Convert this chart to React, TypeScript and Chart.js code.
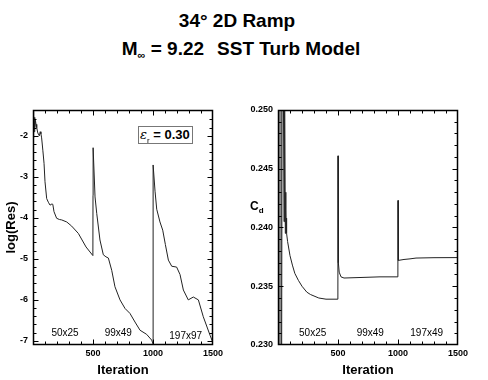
import React, { useEffect, useRef } from "react";
import { Chart, registerables } from "chart.js";

Chart.register(...registerables);

const FONT = "'Liberation Sans', Arial, Helvetica, sans-serif";

// ---- Left panel: log(Res) vs iteration ----
const resIter = [
  0, 2, 4, 6, 8, 10, 13, 16, 20, 25, 31, 40, 53, 60, 66, 72, 82, 92, 100, 114,
  128, 142, 158, 165, 175, 197, 220, 239, 281, 322, 378, 442, 499, 500, 501, 517,
  531, 558, 586, 608, 628, 656, 683, 725, 767, 808, 850, 892, 947, 989, 999, 1000,
  1001, 1017, 1031, 1058, 1081, 1103, 1128, 1156, 1197, 1225, 1253, 1294, 1336, 1378,
  1419, 1475, 1500,
];
const resLog = [
  -1.4, -2.05, -1.45, -1.95, -1.5, -1.9, -1.55, -1.8, -1.62, -1.72, -1.8, -1.93, -2.0,
  -1.9, -1.95, -2.05, -2.35, -2.67, -3.12, -3.53, -3.62, -3.69, -3.66, -3.67, -3.85,
  -4.01, -4.04, -4.05, -4.1, -4.2, -4.38, -4.71, -4.92, -3.45, -2.29, -3.49, -3.89,
  -4.54, -4.9, -4.95, -4.98, -5.28, -5.68, -6.0, -6.21, -6.33, -6.54, -6.74, -6.84,
  -6.98, -7.06, -7.3, -2.71, -3.35, -3.79, -4.1, -4.3, -4.65, -5.03, -5.18, -5.2,
  -5.38, -5.76, -6.0, -5.93, -6.0, -6.41, -6.86, -7.05,
];

// ---- Right panel: Cd vs iteration ----
const cdIter = [
  0, 2, 4, 6, 8, 10, 12, 14, 16, 18, 20, 22, 24, 26, 28, 30, 34, 45, 50, 55, 61, 64,
  66, 68, 70, 73, 80, 100, 120, 140, 170, 200, 240, 270, 340, 400, 499, 500, 503, 510,
  525, 550, 700, 850, 999, 1000, 1003, 1050, 1100, 1150, 1300, 1500,
];
const cdValue = [
  0.26, 0.225, 0.26, 0.225, 0.26, 0.225, 0.26, 0.225, 0.26, 0.225, 0.26, 0.225, 0.26,
  0.225, 0.26, 0.225, 0.252, 0.252, 0.2405, 0.252, 0.2395, 0.243, 0.2415, 0.2398,
  0.2408, 0.2395, 0.2388, 0.2376, 0.2368, 0.2361, 0.2355, 0.235, 0.2345, 0.2343, 0.234,
  0.2339, 0.2339, 0.2461, 0.237, 0.2362, 0.2358, 0.2357, 0.23575, 0.2358, 0.2358,
  0.2423, 0.2372, 0.23728, 0.23733, 0.2374, 0.23743, 0.23744,
];

// ---- Tick labels ----
const iterTicks = [500, 1000, 1500];
const resTicks = [-7, -6, -5, -4, -3, -2];
const cdTicks = [0.23, 0.235, 0.24, 0.245, 0.25];

// ---- Grid annotations ----
const resGrids = ["50x25", "99x49", "197x97"];
const cdGrids = ["50x25", "99x49", "197x49"];

function framePlugin(xMajor: number[], xMinorStep: number, yMajor: number[], yMinorStep: number) {
  return {
    id: "frame",
    afterDraw(chart: any) {
      const { ctx, chartArea: a, scales } = chart;
      const xs = scales.x;
      const ys = scales.y;
      ctx.save();
      ctx.strokeStyle = "#000";
      ctx.lineWidth = 1;
      const seg = (x1: number, y1: number, x2: number, y2: number) => {
        ctx.beginPath();
        ctx.moveTo(x1, y1);
        ctx.lineTo(x2, y2);
        ctx.stroke();
      };
      const L = Math.round(a.left) + 0.5;
      const R = Math.round(a.right) - 0.5;
      const T = Math.round(a.top) + 0.5;
      const B = Math.round(a.bottom) - 0.5;
      for (let v = xs.min; v <= xs.max + 1e-9; v += xMinorStep) {
        const major = xMajor.some((m) => Math.abs(m - v) < 1e-6);
        const len = major ? 5 : 3;
        const px = Math.round(xs.getPixelForValue(v)) + 0.5;
        if (px <= L + 1 || px >= R - 1) continue;
        seg(px, B, px, B - len);
        seg(px, T, px, T + len);
      }
      const start = Math.ceil(ys.min / yMinorStep - 1e-6) * yMinorStep;
      for (let v = start; v <= ys.max + 1e-9; v += yMinorStep) {
        const major = yMajor.some((m) => Math.abs(m - v) < 1e-6);
        const len = major ? 5 : 3;
        const py = Math.round(ys.getPixelForValue(v)) + 0.5;
        if (py <= T + 1 || py >= B - 1) continue;
        seg(L, py, L + len, py);
        seg(R, py, R - len, py);
      }
      ctx.lineWidth = 1.5;
      ctx.strokeRect(L, T, R - L, B - T);
      ctx.restore();
    },
  };
}

function makeConfig(opts: {
  xs: number[];
  ys: number[];
  yMin: number;
  yMax: number;
  yTicks: number[];
  yMinorStep: number;
  yWidth: number;
  padRight: number;
  yTitle: string;
  yLabelPad: number;
  fmt: (v: number) => string;
  grayUntil: number;
}): any {
  const data = opts.xs.map((x, i) => ({ x, y: opts.ys[i] }));
  const tickFont = { family: FONT, size: 9, weight: "bold" as const };
  return {
    type: "line",
    data: {
      datasets: [
        {
          data,
          borderColor: "#222",
          borderWidth: 1,
          pointRadius: 0,
          tension: 0,
          fill: false,
          segment: {
            borderColor: (ctx: any) =>
              ctx.p1.parsed.x <= opts.grayUntil ? "#8a8a8a" : undefined,
          },
        },
      ],
    },
    options: {
      animation: false,
      responsive: false,
      events: [],
      layout: { padding: { top: 110, right: opts.padRight, left: 0, bottom: 0 } },
      plugins: { legend: { display: false }, tooltip: { enabled: false } },
      scales: {
        x: {
          type: "linear",
          min: 0,
          max: 1500,
          afterBuildTicks: (s: any) => {
            s.ticks = iterTicks.map((v) => ({ value: v }));
          },
          afterFit: (s: any) => {
            s.height = 35;
          },
          grid: { display: false, drawTicks: false },
          border: { display: false },
          ticks: {
            padding: 3,
            autoSkip: false,
            maxRotation: 0,
            color: "#000",
            font: tickFont,
            callback: (v: any) => String(v),
          },
          title: {
            display: true,
            text: "Iteration",
            color: "#000",
            font: { family: FONT, size: 13, weight: "bold" },
            padding: { top: 0, bottom: 1.5 },
          },
        },
        y: {
          type: "linear",
          min: opts.yMin,
          max: opts.yMax,
          afterBuildTicks: (s: any) => {
            s.ticks = opts.yTicks.map((v) => ({ value: v }));
          },
          afterFit: (s: any) => {
            s.width = opts.yWidth;
          },
          grid: { display: false, drawTicks: false },
          border: { display: false },
          ticks: {
            padding: opts.yLabelPad,
            autoSkip: false,
            color: "#000",
            font: tickFont,
            callback: (v: any) => opts.fmt(Number(v)),
          },
          title: {
            display: opts.yTitle !== "",
            text: opts.yTitle,
            color: "#000",
            font: { family: FONT, size: 13, weight: "bold" },
            padding: { top: 4, bottom: 0 },
          },
        },
      },
    },
    plugins: [framePlugin(iterTicks, 100, opts.yTicks, opts.yMinorStep)],
  };
}

const ann: React.CSSProperties = {
  position: "absolute",
  fontFamily: FONT,
  fontSize: 10,
  color: "#000",
  transform: "translate(-50%, -50%)",
  whiteSpace: "nowrap",
  lineHeight: "12px",
};

export default function App() {
  const leftRef = useRef<HTMLCanvasElement>(null);
  const rightRef = useRef<HTMLCanvasElement>(null);

  useEffect(() => {
    const c1 = new Chart(
      leftRef.current!,
      makeConfig({
        xs: resIter,
        ys: resLog,
        yMin: -7.1,
        yMax: -1.37,
        yTicks: resTicks,
        yMinorStep: 0.2,
        yWidth: 33,
        padRight: 27,
        yTitle: "log(Res)",
        yLabelPad: 5,
        fmt: (v) => String(v),
        grayUntil: -1,
      })
    );
    const c2 = new Chart(
      rightRef.current!,
      makeConfig({
        xs: cdIter,
        ys: cdValue,
        yMin: 0.23,
        yMax: 0.25,
        yTicks: cdTicks,
        yMinorStep: 0.001,
        yWidth: 38,
        padRight: 30,
        yTitle: "",
        yLabelPad: 5,
        fmt: (v) => v.toFixed(3),
        grayUntil: 30,
      })
    );
    return () => {
      c1.destroy();
      c2.destroy();
    };
  }, []);

  const titleStyle: React.CSSProperties = {
    position: "absolute",
    fontFamily: FONT,
    fontWeight: "bold",
    fontSize: 19,
    lineHeight: "19px",
    whiteSpace: "pre",
    transform: "translateX(-50%)",
    color: "#000",
  };

  return (
    <div
      style={{
        position: "fixed",
        left: 0,
        top: 0,
        width: 488,
        height: 380,
        background: "#fff",
        overflow: "hidden",
      }}
    >
      <div style={{ ...titleStyle, left: 237, top: 10.6 }}>34° 2D Ramp</div>
      <div style={{ ...titleStyle, left: 241, top: 38.9 }}>
        M<span style={{ position: "relative", top: 4, fontSize: 11 }}>∞</span> = 9.22
        <span style={{ marginLeft: 13 }}>SST Turb Model</span>
      </div>

      <canvas ref={leftRef} width={240} height={380} style={{ position: "absolute", left: 0, top: 0 }} />
      <canvas ref={rightRef} width={248} height={380} style={{ position: "absolute", left: 240, top: 0 }} />

      <div
        style={{
          position: "absolute",
          left: 138,
          top: 126,
          width: 55,
          height: 18,
          boxSizing: "border-box",
          border: "1px solid #777",
          background: "#fff",
          fontFamily: FONT,
          fontWeight: "bold",
          fontSize: 13,
          lineHeight: "16px",
          whiteSpace: "nowrap",
          paddingLeft: 1,
          color: "#000",
        }}
      >
        <span style={{ fontStyle: "italic", fontWeight: "normal", fontFamily: "'DejaVu Serif', serif", fontSize: 13 }}>ε</span>
        <span style={{ position: "relative", top: 4, fontSize: 8, fontWeight: "normal" }}>r</span> = 0.30
      </div>

      <div
        style={{
          position: "absolute",
          left: 250,
          top: 199.8,
          fontFamily: FONT,
          fontWeight: "bold",
          fontSize: 12,
          lineHeight: "12px",
          color: "#000",
          whiteSpace: "nowrap",
        }}
      >
        C<span style={{ position: "relative", top: 3, fontSize: 8 }}>d</span>
      </div>

      <div style={{ ...ann, left: 65, top: 333.3 }}>{resGrids[0]}</div>
      <div style={{ ...ann, left: 118.3, top: 333.3 }}>{resGrids[1]}</div>
      <div style={{ ...ann, left: 185.7, top: 336 }}>{resGrids[2]}</div>
      <div style={{ ...ann, left: 312.7, top: 333.3 }}>{cdGrids[0]}</div>
      <div style={{ ...ann, left: 370.3, top: 333.3 }}>{cdGrids[1]}</div>
      <div style={{ ...ann, left: 426.7, top: 333.3 }}>{cdGrids[2]}</div>
    </div>
  );
}
